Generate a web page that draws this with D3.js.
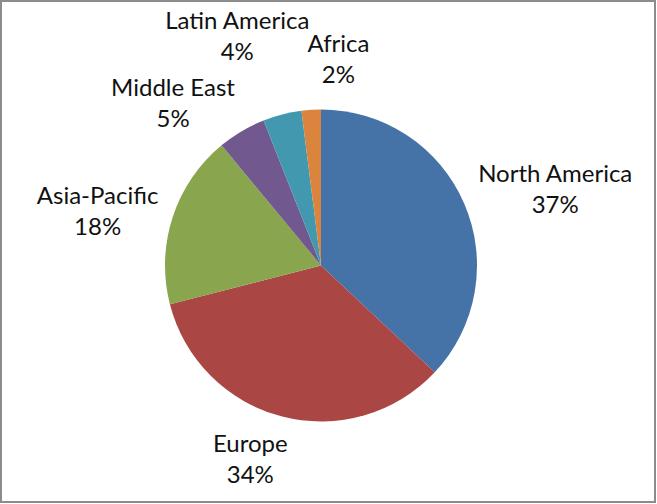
<!DOCTYPE html>
<html>
<head>
<meta charset="utf-8">
<script src="https://cdn.jsdelivr.net/npm/d3@7"></script>
<style>
  html, body { margin: 0; padding: 0; background: #fff; }
  svg { display: block; }
  text { font-family: Lato, "Open Sans", sans-serif; fill: #111; }
</style>
</head>
<body>
<div id="chart"></div>
<script>
// regions and their share (%)
let regions = ["North America", "Europe", "Asia-Pacific", "Middle East", "Latin America", "Africa"];
let shares = [37, 34, 18, 5, 4, 2];
let colors = ["#4572a7", "#aa4643", "#89a54e", "#71588f", "#4198af", "#db843d"];

// label nudge from the outer-arc centroid (Excel "best fit" places them a bit irregularly)
let labelNudge = [[36, 9], [-17, -16], [-18, 12], [-38, 24], [-30, -20], [31, 9]];

function main() {
    let width = 657,
        height = 504,
        cx = 321,
        cy = 265.5,
        radius = 156;

    let data = regions.map(function (r, i) {
        return {"region": r, "share": shares[i], "idx": i};
    });

    let svg = d3.select("#chart")
        .append("svg")
        .attr("width", width)
        .attr("height", height);

    // chart border
    svg.append("rect")
        .attr("x", 1)
        .attr("y", 1)
        .attr("width", width - 3)
        .attr("height", height - 3)
        .attr("fill", "#fff")
        .attr("stroke", "#8c8c8c")
        .attr("stroke-width", 2);

    let g = svg.append("g")
        .attr("transform", "translate(" + cx + "," + cy + ")");

    let pie = d3.pie()
        .sort(null)
        .value(function (d) { return d.share; });

    let arc = d3.arc()
        .innerRadius(0)
        .outerRadius(radius);

    let labelArc = d3.arc()
        .innerRadius(radius + 60)
        .outerRadius(radius + 60);

    let color = d3.scaleOrdinal()
        .domain(regions)
        .range(colors);

    let arcs = pie(data);

    g.selectAll("path")
        .data(arcs)
        .enter()
        .append("path")
        .attr("d", arc)
        .attr("fill", function (d) { return color(d.data.region); });

    let labels = g.selectAll("text.lbl")
        .data(arcs)
        .enter()
        .append("text")
        .attr("class", "lbl")
        .attr("text-anchor", "middle")
        .attr("font-size", 24)
        .attr("transform", function (d) {
            let c = labelArc.centroid(d);
            let n = labelNudge[d.data.idx];
            return "translate(" + (c[0] + n[0]) + "," + (c[1] + n[1]) + ")";
        });

    labels.append("tspan")
        .attr("x", 0)
        .attr("y", -15.5)
        .attr("dy", "0.35em")
        .text(function (d) { return d.data.region; });

    labels.append("tspan")
        .attr("x", 0)
        .attr("y", 15.5)
        .attr("dy", "0.35em")
        .text(function (d) { return d.data.share + "%"; });
}

main();
</script>
</body>
</html>
